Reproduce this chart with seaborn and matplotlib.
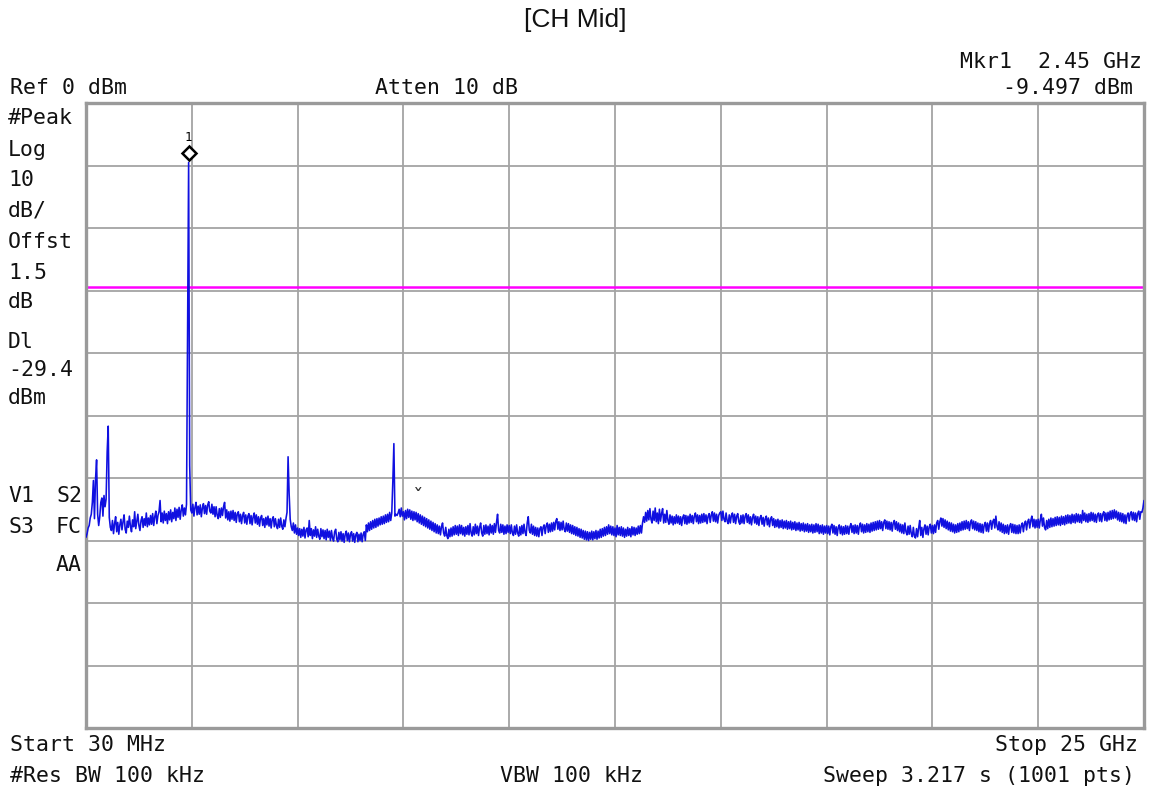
import numpy as np
import pandas as pd
import matplotlib
matplotlib.use("Agg")
import matplotlib.pyplot as plt
from matplotlib.transforms import offset_copy
import seaborn as sns

# Sweep settings
start_ghz = 0.03
stop_ghz = 25.0
n_points = 1001
ref_level = 0.0
db_per_div = 10
display_line = -29.4
marker_freq = 2.45
marker_level = -9.497

# Peak-hold trace, one list per horizontal division (dBm)
div0 = [-69.5, -68.9, -68.0, -67.6, -66.4, -65.8, -63.9, -60.4, -66.5, -60.2, -57.1, -65.8, -67.6, -66.2, -63.9, -63.2, -66.1, -62.8, -64.6, -63.4,
        -55.8, -51.7, -66.3, -67.9, -68.4, -66.8, -68.9, -67.3, -66.2, -68.6, -67.1, -69.0, -67.5, -66.6, -68.3, -67.0, -65.9, -68.2, -68.8, -66.9,
        -67.9, -66.1, -67.7, -68.6, -66.7, -67.8, -65.4, -68.1, -66.9, -65.8, -67.6, -68.4, -66.8, -66.2, -67.9, -66.5, -67.6, -65.6, -67.8, -66.4,
        -67.5, -66.0, -67.4, -65.7, -67.6, -66.2, -65.3, -67.3, -66.0, -65.4, -63.6, -67.0, -65.6, -67.2, -65.3, -66.8, -65.7, -67.3, -65.4, -66.7,
        -65.1, -67.0, -65.5, -66.5, -64.8, -66.8, -65.0, -66.3, -64.7, -66.6, -65.1, -64.3, -66.1, -64.8, -65.9, -64.2, -36.3, -9.5, -58.0, -65.1]
div1 = [-65.6, -64.2, -66.1, -64.7, -63.9, -65.9, -64.5, -65.8, -64.3, -66.2, -64.8, -64.1, -65.7, -64.4, -65.8, -64.3, -63.8, -65.3, -65.6, -64.2,
        -65.8, -64.6, -66.2, -64.6, -66.0, -66.5, -64.9, -66.3, -64.8, -66.0, -64.6, -63.9, -66.4, -65.1, -66.7, -65.4, -66.9, -65.3, -66.6, -65.2,
        -66.8, -65.5, -67.1, -65.7, -65.4, -67.0, -65.8, -67.3, -66.0, -65.5, -67.2, -65.9, -67.4, -66.1, -65.7, -67.3, -66.0, -67.5, -66.2, -65.6,
        -67.2, -65.9, -67.4, -66.2, -67.7, -66.4, -66.0, -67.6, -66.5, -67.9, -66.3, -67.5, -66.1, -67.7, -66.5, -68.0, -66.6, -66.2, -67.8, -66.5,
        -67.6, -68.1, -66.6, -67.9, -66.4, -67.7, -68.2, -66.7, -67.8, -66.5, -65.5, -56.6, -62.5, -66.6, -67.8, -68.4, -67.2, -68.8, -67.5, -69.0]
div2 = [-68.0, -69.2, -68.1, -69.5, -68.2, -69.3, -67.9, -69.6, -68.3, -68.0, -69.4, -66.8, -69.2, -68.1, -69.7, -68.3, -69.3, -67.8, -69.5, -68.2,
        -69.3, -69.8, -68.1, -69.4, -68.3, -69.7, -68.4, -69.9, -68.2, -69.5, -68.5, -70.0, -68.4, -69.6, -70.1, -68.6, -68.2, -69.8, -70.2, -68.7,
        -69.9, -68.6, -70.1, -68.9, -70.3, -69.0, -68.5, -70.0, -68.8, -70.2, -69.0, -68.6, -70.1, -68.9, -70.3, -69.1, -68.7, -70.2, -69.0, -70.0,
        -68.8, -70.2, -69.0, -68.6, -70.0, -67.5, -68.6, -67.2, -68.4, -67.0, -68.2, -66.8, -68.0, -66.6, -67.9, -66.5, -67.7, -66.4, -67.5, -66.2,
        -67.4, -66.1, -67.3, -65.9, -67.1, -65.8, -67.0, -65.5, -66.8, -65.6, -60.6, -54.5, -66.1, -65.8, -66.0, -65.6, -65.0, -66.2, -64.8, -66.1]
div3 = [-65.4, -66.7, -65.2, -66.5, -65.0, -66.3, -65.1, -66.6, -65.3, -66.8, -65.4, -66.7, -65.5, -67.0, -65.7, -67.2, -65.9, -67.4, -66.1, -67.6,
        -66.3, -67.8, -66.5, -68.0, -66.7, -68.2, -66.9, -68.4, -67.1, -68.6, -67.3, -68.8, -67.5, -68.9, -67.7, -69.1, -67.8, -67.2, -68.8, -69.3,
        -67.9, -69.2, -69.7, -68.2, -69.4, -68.0, -69.3, -67.8, -69.1, -67.6, -69.0, -67.7, -69.2, -67.5, -68.9, -67.6, -69.1, -67.9, -69.3, -67.8,
        -69.0, -67.6, -69.1, -67.3, -68.8, -69.3, -67.8, -69.1, -67.4, -68.9, -67.7, -69.2, -67.9, -67.2, -68.8, -69.3, -67.6, -69.0, -67.5, -68.9,
        -67.7, -69.1, -67.4, -68.8, -67.6, -69.0, -67.3, -68.7, -67.1, -65.8, -68.4, -68.8, -67.4, -68.7, -67.5, -69.0, -67.7, -68.9, -67.5, -68.7]
div4 = [-67.6, -68.9, -67.5, -68.8, -69.2, -67.7, -69.0, -67.5, -68.8, -69.3, -67.8, -69.1, -67.6, -68.9, -67.4, -68.7, -69.2, -67.2, -66.2, -68.4,
        -68.8, -67.4, -69.0, -67.7, -69.2, -67.9, -69.3, -68.0, -69.4, -68.1, -67.8, -69.2, -67.9, -67.5, -68.9, -67.6, -67.2, -68.7, -67.4, -68.6,
        -67.2, -68.5, -67.1, -68.3, -66.9, -66.5, -68.2, -67.0, -68.4, -67.1, -68.3, -66.9, -68.2, -68.6, -67.2, -68.5, -67.3, -68.7, -67.5, -68.9,
        -67.6, -69.0, -67.8, -69.2, -67.9, -69.3, -68.1, -69.5, -68.2, -69.6, -68.4, -69.8, -68.5, -69.9, -68.6, -70.0, -68.7, -69.8, -68.5, -69.9,
        -68.6, -69.7, -68.4, -69.8, -68.5, -69.6, -68.2, -69.5, -68.1, -69.3, -67.9, -69.2, -67.8, -69.0, -67.5, -68.9, -67.7, -69.1, -67.8, -69.2]
div5 = [-68.0, -69.4, -67.6, -69.1, -67.9, -69.2, -67.8, -69.3, -68.0, -69.5, -68.2, -69.3, -67.9, -69.2, -68.1, -69.4, -67.8, -69.1, -67.9, -69.2,
        -68.0, -69.0, -67.7, -68.9, -67.6, -68.8, -67.2, -66.2, -67.1, -65.5, -66.9, -65.2, -66.7, -64.9, -66.6, -67.2, -65.3, -66.8, -64.8, -67.0,
        -65.6, -67.3, -65.0, -66.9, -65.7, -64.9, -67.2, -65.8, -67.1, -65.2, -66.8, -67.4, -65.9, -67.2, -66.1, -67.5, -66.2, -67.3, -65.9, -67.2,
        -66.1, -67.4, -66.2, -67.6, -66.3, -65.9, -67.3, -66.0, -67.4, -66.1, -67.2, -65.8, -67.1, -66.0, -67.3, -66.1, -65.6, -67.0, -65.9, -67.3,
        -66.0, -67.2, -65.8, -67.1, -65.7, -67.0, -65.9, -67.3, -66.1, -65.7, -67.1, -65.9, -65.4, -66.9, -65.6, -67.0, -65.8, -67.2, -66.0, -65.6]
div6 = [-65.4, -66.8, -65.3, -66.6, -67.0, -65.6, -66.9, -67.3, -65.9, -67.2, -66.0, -65.6, -67.1, -65.8, -67.3, -66.1, -65.7, -67.0, -67.4, -66.0,
        -67.2, -65.9, -67.3, -66.1, -65.7, -67.1, -65.9, -67.3, -66.2, -67.5, -66.3, -65.8, -67.2, -66.1, -67.4, -66.2, -67.6, -66.4, -66.0, -67.4,
        -66.3, -67.7, -66.5, -66.1, -67.5, -66.4, -67.8, -66.6, -66.2, -67.6, -66.5, -67.9, -66.7, -67.8, -66.6, -68.0, -66.8, -67.9, -66.7, -68.1,
        -66.9, -68.0, -66.8, -68.2, -67.0, -68.1, -66.9, -68.3, -67.1, -68.2, -67.0, -68.4, -67.2, -68.3, -67.1, -68.5, -67.3, -68.4, -67.2, -68.6,
        -67.4, -68.5, -67.3, -68.7, -67.5, -68.6, -67.4, -68.8, -67.5, -68.7, -67.3, -68.6, -67.4, -68.9, -67.6, -68.8, -67.5, -69.0, -67.7, -68.8]
div7 = [-67.6, -68.9, -67.7, -69.1, -67.8, -67.4, -68.8, -67.6, -69.0, -67.8, -69.2, -67.9, -67.5, -68.9, -67.7, -69.1, -67.8, -69.0, -67.6, -68.9,
        -67.7, -69.0, -67.8, -67.3, -68.7, -67.6, -68.9, -67.5, -68.8, -67.6, -69.0, -67.7, -67.2, -68.6, -67.4, -68.8, -67.5, -68.7, -67.3, -68.6,
        -67.4, -68.7, -67.2, -68.5, -67.1, -68.4, -67.0, -68.3, -66.9, -68.2, -66.8, -68.1, -67.0, -68.4, -67.1, -66.7, -68.1, -66.9, -68.2, -67.0,
        -68.3, -67.1, -68.5, -67.2, -66.8, -68.2, -67.0, -68.4, -67.2, -68.6, -67.4, -68.8, -67.5, -68.9, -67.2, -68.6, -69.1, -67.7, -69.0, -67.6,
        -68.9, -69.4, -67.9, -69.3, -69.6, -68.1, -69.4, -68.0, -66.8, -69.2, -67.9, -69.5, -68.1, -67.5, -69.0, -67.7, -69.1, -67.8, -67.4, -68.8]
div8 = [-67.6, -68.9, -67.5, -68.7, -67.2, -66.8, -68.2, -67.0, -66.4, -67.7, -66.5, -67.9, -66.7, -68.1, -66.9, -68.3, -67.1, -68.5, -67.2, -68.6,
        -67.4, -68.8, -67.5, -68.7, -67.3, -68.6, -67.2, -68.4, -67.0, -68.3, -66.9, -68.2, -66.8, -68.1, -67.0, -68.4, -67.1, -66.7, -68.1, -66.9,
        -68.3, -67.0, -68.4, -67.2, -68.6, -67.3, -68.7, -67.4, -68.8, -67.5, -67.1, -68.5, -67.2, -68.6, -67.3, -66.8, -68.2, -67.0, -66.6, -68.0,
        -66.1, -67.7, -68.3, -67.0, -68.5, -67.2, -68.7, -67.4, -68.9, -67.6, -68.8, -67.5, -69.0, -67.7, -67.3, -68.7, -67.4, -68.8, -67.5, -68.9,
        -67.6, -68.9, -67.5, -68.8, -67.6, -67.2, -68.6, -67.3, -66.9, -68.3, -67.0, -66.6, -68.0, -66.8, -66.1, -67.8, -66.6, -68.0, -66.7, -67.9]
div9 = [-66.6, -68.0, -66.7, -65.8, -67.7, -66.4, -67.9, -68.3, -66.8, -68.1, -66.6, -67.9, -66.4, -67.8, -66.5, -67.7, -66.3, -67.6, -66.2, -67.5,
        -66.3, -67.6, -66.1, -67.4, -66.2, -67.5, -66.0, -67.3, -65.9, -67.2, -66.0, -67.3, -65.8, -67.1, -65.9, -67.2, -65.7, -67.0, -65.8, -67.1,
        -65.9, -67.2, -65.2, -66.8, -65.6, -67.0, -65.8, -67.1, -65.7, -66.9, -65.5, -66.8, -65.6, -67.0, -65.8, -67.1, -65.9, -65.6, -66.9, -65.7,
        -67.0, -65.8, -65.4, -66.8, -65.6, -66.9, -65.5, -66.7, -65.3, -66.6, -65.2, -66.5, -65.1, -66.4, -65.3, -66.7, -65.5, -66.9, -65.6, -67.0,
        -65.7, -67.2, -65.9, -67.3, -66.0, -65.6, -66.9, -65.7, -65.4, -66.7, -65.5, -66.8, -65.6, -67.0, -65.7, -65.3, -66.6, -65.4, -65.5, -64.8,
        -63.6]

level = np.array(div0 + div1 + div2 + div3 + div4 + div5 + div6 + div7 + div8 + div9)
freq = np.linspace(start_ghz, stop_ghz, n_points)
sweep = pd.DataFrame({"freq_ghz": freq, "level_dbm": level})

sns.set_style("white")
plt.rcParams["font.family"] = ["DejaVu Sans Mono"]

W, H = 1150, 791
fig = plt.figure(figsize=(W / 100, H / 100), dpi=100)
fig.patch.set_facecolor("white")

# plot area in pixel terms
left, top, right, bottom = 86, 103, 1144, 728
ax = fig.add_axes([left / W, 1 - bottom / H, (right - left) / W, (bottom - top) / H])
ax.set_facecolor("white")
ax.set_xlim(start_ghz, stop_ghz)
ax.set_ylim(ref_level - 10 * db_per_div, ref_level)

ax.set_xticks(np.linspace(start_ghz, stop_ghz, 11))
ax.set_yticks(np.arange(ref_level - 10 * db_per_div, ref_level + 1, db_per_div))
ax.tick_params(length=0, labelbottom=False, labelleft=False)
ax.grid(True, color="#a4a4a4", linewidth=1.3)
ax.set_axisbelow(True)
for sp in ax.spines.values():
    sp.set_color("#9a9a9a")
    sp.set_linewidth(2.4)

# display line
ax.axhline(display_line, color="#ff00ff", linewidth=1.8, zorder=2)

sns.lineplot(data=sweep, x="freq_ghz", y="level_dbm", ax=ax, color="#1010e0",
             linewidth=1.15, estimator=None, sort=False, zorder=3)
ax.set_xlabel("")
ax.set_ylabel("")

# marker 1
dia_tr = offset_copy(ax.transData, fig=fig, x=0, y=9, units="dots")
ax.plot([marker_freq], [marker_level], marker="D", markersize=7.5,
        markerfacecolor="white", markeredgecolor="black", markeredgewidth=1.8,
        transform=dia_tr, zorder=5, clip_on=False)
lbl_tr = offset_copy(ax.transData, fig=fig, x=0, y=25, units="dots")
ax.text(marker_freq, marker_level, "1", transform=lbl_tr, ha="center", va="center",
        fontsize=9, color="black", zorder=5)

# small signal-track caret
ax.text(7.87, -63.2, "ˇ", ha="center", va="center", fontsize=15, color="#333333")

# annotation texts in figure pixels
def put(x, y, s, ha="left", size=15.5, family=None):
    kw = {}
    if family:
        kw["family"] = family
    fig.text(x / W, 1 - y / H, s, ha=ha, va="center", fontsize=size, color="#111111", **kw)

put(575, 20, "[CH Mid]", ha="center", size=19, family=["Liberation Sans"])
put(1142, 62, "Mkr1  2.45 GHz", ha="right")
put(10, 88, "Ref 0 dBm")
put(375, 88, "Atten 10 dB")
put(1133, 88, "-9.497 dBm", ha="right")

left_col = [("#Peak", 118), ("Log", 150), ("10", 180), ("dB/", 211), ("Offst", 242),
            ("1.5", 273), ("dB", 302), ("Dl", 342), ("-29.4", 370), ("dBm", 398)]
for s, y in left_col:
    put(8, y, s)
put(8, 496, "V1")
put(82, 496, "S2", ha="right")
put(8, 527, "S3")
put(82, 527, "FC", ha="right")
put(82, 565, "AA", ha="right")

put(10, 745, "Start 30 MHz")
put(1138, 745, "Stop 25 GHz", ha="right")
put(10, 776, "#Res BW 100 kHz")
put(500, 776, "VBW 100 kHz")
put(1135, 776, "Sweep 3.217 s (1001 pts)", ha="right")

fig.savefig("out.png", dpi=100, facecolor="white")
